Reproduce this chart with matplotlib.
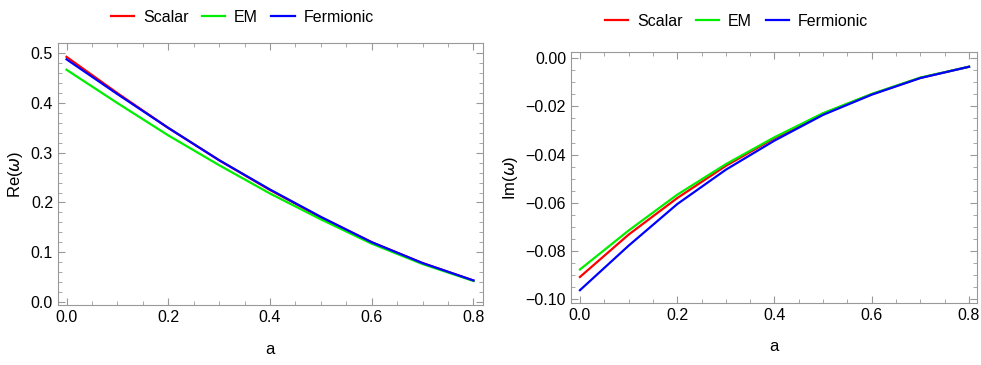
import matplotlib.pyplot as plt
from matplotlib.ticker import MultipleLocator

plt.rcParams['font.family'] = ['Liberation Sans', 'DejaVu Sans']

a = [0.0, 0.1, 0.2, 0.3, 0.4, 0.5, 0.6, 0.7, 0.8]

# parte real
re_scalar = [0.493, 0.420, 0.350, 0.285, 0.225, 0.170, 0.120, 0.078, 0.043]
re_em = [0.467, 0.400, 0.335, 0.275, 0.218, 0.166, 0.117, 0.076, 0.042]
re_ferm = [0.488, 0.418, 0.350, 0.285, 0.226, 0.171, 0.120, 0.078, 0.043]

# parte imaginaria
im_scalar = [-0.0909, -0.0733, -0.0581, -0.0447, -0.0332, -0.0230, -0.0149, -0.0081, -0.0035]
im_em = [-0.0878, -0.0716, -0.0567, -0.0440, -0.0328, -0.0228, -0.0148, -0.0080, -0.0035]
im_ferm = [-0.0964, -0.0779, -0.0606, -0.0463, -0.0342, -0.0235, -0.0151, -0.0082, -0.0035]

nombres = ["Scalar", "EM", "Fermionic"]
colores = ["#ff0000", "#00ee00", "#0000ff"]

fig = plt.figure(figsize=(9.81, 3.65), dpi=100)
ax1 = fig.add_axes([0.059, 0.164, 0.433, 0.718])
ax2 = fig.add_axes([0.582, 0.170, 0.414, 0.688])


def estilo(ax, ymenor):
    for s in ax.spines.values():
        s.set_color("#999999")
    ax.tick_params(direction="in", which="both", top=True, right=True,
                   color="#999999", labelsize=11.5, labelcolor="black")
    ax.tick_params(which="major", length=5)
    ax.tick_params(which="minor", length=3)
    ax.xaxis.set_major_locator(MultipleLocator(0.2))
    ax.xaxis.set_minor_locator(MultipleLocator(0.05))
    ax.yaxis.set_minor_locator(MultipleLocator(ymenor))
    ax.set_xlabel("a", fontsize=12, labelpad=12)


def fmt_im(v, p):
    if abs(v) < 1e-9:
        return "0.00"
    return f"{v:.2f}".replace("-", "\u2212")


for ys, nombre, c in zip([re_scalar, re_em, re_ferm], nombres, colores):
    ax1.plot(a, ys, color=c, lw=1.6, label=nombre)
ax1.set_xlim(-0.017, 0.818)
ax1.set_ylim(-0.0066, 0.5207)
ax1.yaxis.set_major_locator(MultipleLocator(0.1))
ax1.yaxis.set_major_formatter(plt.FormatStrFormatter("%.1f"))
ax1.xaxis.set_major_formatter(plt.FormatStrFormatter("%.1f"))
estilo(ax1, 0.02)
ax1.set_ylabel("Re($\\omega$)", fontsize=12)
ax1.legend(loc="center", bbox_to_anchor=(0.434, 1.099), ncol=3, frameon=False,
           fontsize=11.5, handlelength=1.45, handletextpad=0.55, columnspacing=0.85)

for ys, nombre, c in zip([im_scalar, im_em, im_ferm], nombres, colores):
    ax2.plot(a, ys, color=c, lw=1.6, label=nombre)
ax2.set_xlim(-0.0185, 0.8165)
ax2.set_ylim(-0.1017, 0.0027)
ax2.yaxis.set_major_locator(MultipleLocator(0.02))
ax2.yaxis.set_major_formatter(plt.FuncFormatter(fmt_im))
ax2.xaxis.set_major_formatter(plt.FormatStrFormatter("%.1f"))
estilo(ax2, 0.005)
ax2.set_ylabel("Im($\\omega$)", fontsize=12)
ax2.legend(loc="center", bbox_to_anchor=(0.408, 1.122), ncol=3, frameon=False,
           fontsize=11.5, handlelength=1.45, handletextpad=0.55, columnspacing=0.85)

plt.savefig("out.png", dpi=100)
